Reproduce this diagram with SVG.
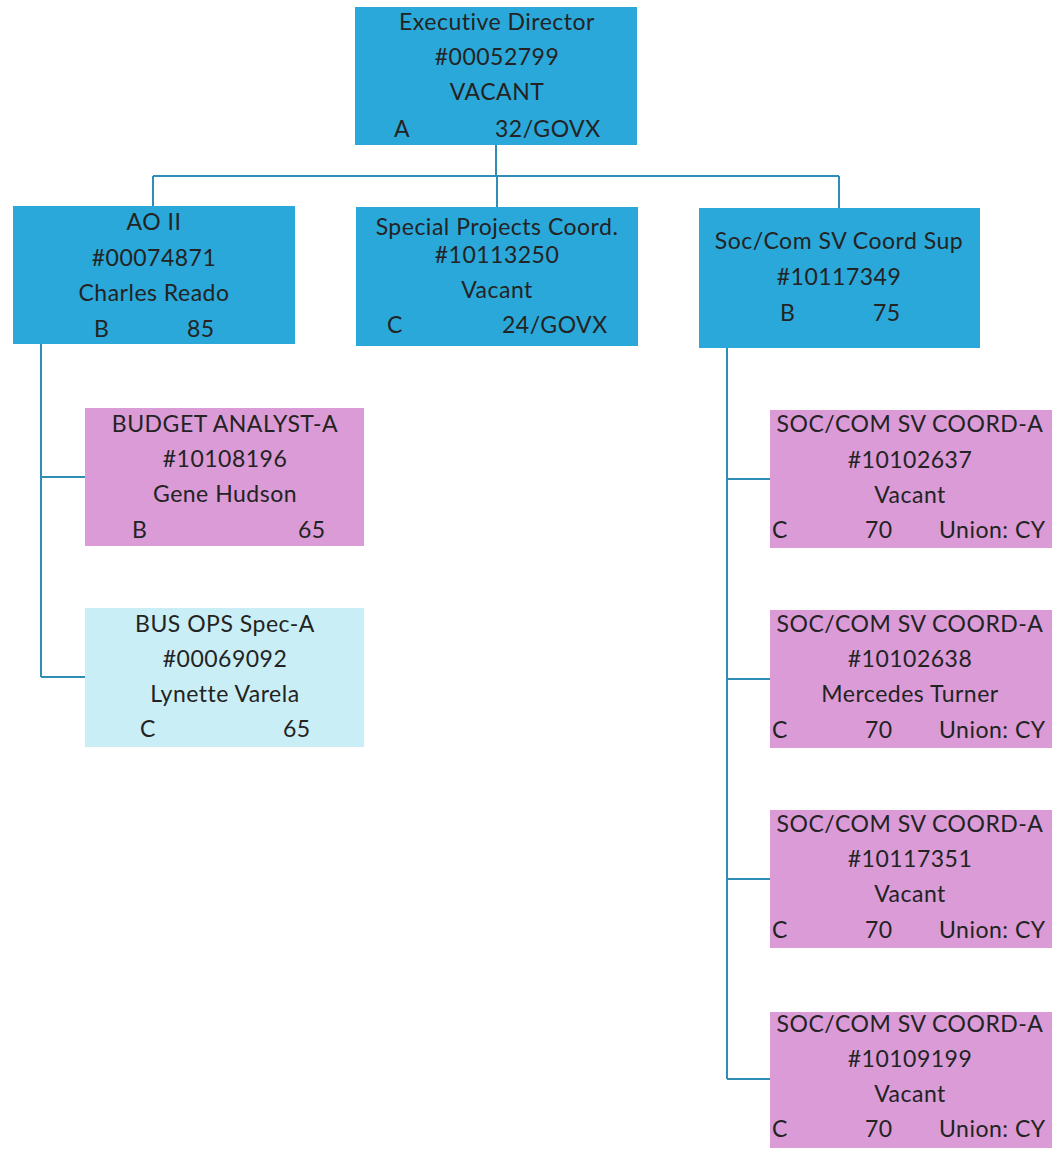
<svg xmlns="http://www.w3.org/2000/svg" width="1056" height="1151" viewBox="0 0 1056 1151">
<style>
.b{fill:#2aa8d9}
.p{fill:#da9bd7}
.c{fill:#c9eef6}
text{font-family:Lato,"Open Sans","Liberation Sans",sans-serif;font-size:23px;letter-spacing:0.5px;fill:#232323}
.m{text-anchor:middle}
.ln{stroke:#2f8db6;stroke-width:2;fill:none}
</style>
<rect width="1056" height="1151" fill="#ffffff"/>
<g id="connectors">
<path class="ln" d="M496 145V176M153 176H839M153 176V206M497 176V207M839 176V208"/>
<path class="ln" d="M41 344V677M41 477H85M41 677H85"/>
<path class="ln" d="M727 348V1079M727 479H770M727 679H770M727 879H770M727 1079H770"/>
</g>
<g id="exec">
<rect class="b" x="355" y="7" width="282" height="138"/>
<text class="m" x="497" y="30">Executive Director</text>
<text class="m" x="497" y="65">#00052799</text>
<text class="m" x="497" y="100">VACANT</text>
<text x="394" y="137">A</text>
<text x="495" y="137">32/GOVX</text>
</g>
<g id="ao2">
<rect class="b" x="13" y="206" width="282" height="138"/>
<text class="m" x="154" y="230">AO II</text>
<text class="m" x="154" y="266">#00074871</text>
<text class="m" x="154" y="301">Charles Reado</text>
<text x="94" y="337">B</text>
<text x="187" y="337">85</text>
</g>
<g id="spc">
<rect class="b" x="356" y="207" width="282" height="139"/>
<text class="m" x="497" y="235">Special Projects Coord.</text>
<text class="m" x="497" y="263">#10113250</text>
<text class="m" x="497" y="298">Vacant</text>
<text x="387" y="333">C</text>
<text x="502" y="333">24/GOVX</text>
</g>
<g id="socsup">
<rect class="b" x="699" y="208" width="281" height="140"/>
<text class="m" x="839" y="249">Soc/Com SV Coord Sup</text>
<text class="m" x="839" y="285">#10117349</text>
<text x="780" y="321">B</text>
<text x="873" y="321">75</text>
</g>
<g id="budget">
<rect class="p" x="85" y="408" width="279" height="138"/>
<text class="m" x="225" y="432">BUDGET ANALYST-A</text>
<text class="m" x="225" y="467">#10108196</text>
<text class="m" x="225" y="502">Gene Hudson</text>
<text x="132" y="538">B</text>
<text x="298" y="538">65</text>
</g>
<g id="busops">
<rect class="c" x="85" y="608" width="279" height="139"/>
<text class="m" x="225" y="632">BUS OPS Spec-A</text>
<text class="m" x="225" y="667">#00069092</text>
<text class="m" x="225" y="702">Lynette Varela</text>
<text x="140" y="737">C</text>
<text x="283" y="737">65</text>
</g>
<g id="soc1">
<rect class="p" x="770" y="410" width="282" height="138"/>
<text class="m" x="910" y="432">SOC/COM SV COORD-A</text>
<text class="m" x="910" y="468">#10102637</text>
<text class="m" x="910" y="503">Vacant</text>
<text x="772" y="538">C</text>
<text x="865" y="538">70</text>
<text x="939" y="538">Union: CY</text>
</g>
<g id="soc2">
<rect class="p" x="770" y="610" width="282" height="138"/>
<text class="m" x="910" y="632">SOC/COM SV COORD-A</text>
<text class="m" x="910" y="667">#10102638</text>
<text class="m" x="910" y="702">Mercedes Turner</text>
<text x="772" y="738">C</text>
<text x="865" y="738">70</text>
<text x="939" y="738">Union: CY</text>
</g>
<g id="soc3">
<rect class="p" x="770" y="810" width="282" height="138"/>
<text class="m" x="910" y="832">SOC/COM SV COORD-A</text>
<text class="m" x="910" y="867">#10117351</text>
<text class="m" x="910" y="902">Vacant</text>
<text x="772" y="938">C</text>
<text x="865" y="938">70</text>
<text x="939" y="938">Union: CY</text>
</g>
<g id="soc4">
<rect class="p" x="770" y="1012" width="282" height="136"/>
<text class="m" x="910" y="1032">SOC/COM SV COORD-A</text>
<text class="m" x="910" y="1067">#10109199</text>
<text class="m" x="910" y="1102">Vacant</text>
<text x="772" y="1137">C</text>
<text x="865" y="1137">70</text>
<text x="939" y="1137">Union: CY</text>
</g>
</svg>
